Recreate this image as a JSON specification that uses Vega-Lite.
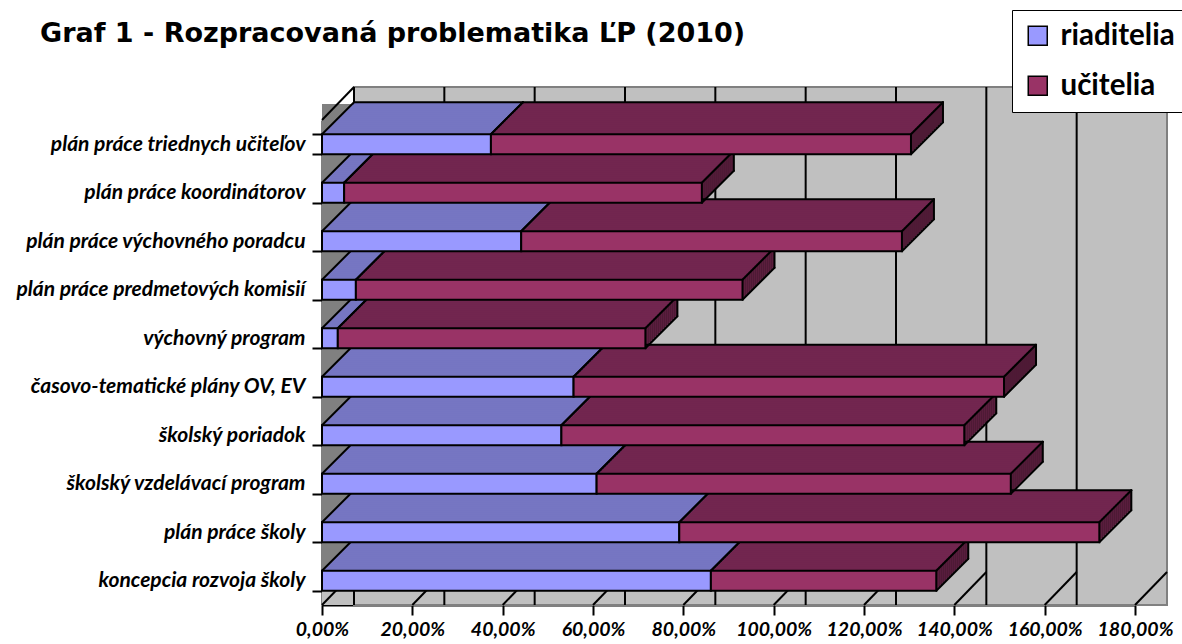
{
"$schema": "https://vega.github.io/schema/vega-lite/v6.json",
"autosize": {"type": "none"},
"width": 813, "height": 485,
"padding": {"left": 322, "top": 120, "right": 47, "bottom": 39},
"background": "white",
"title": {"text": "Graf 1 - Rozpracovaná problematika ĽP (2010)", "anchor": "start", "frame": "group", "dx": -282, "dy": 42, "fontSize": 27, "font": "DejaVu Sans", "fontWeight": "bold", "color": "black"},
"config": {
  "view": {"stroke": null},
  "axisY": {"labelFont": "Lato", "labelFontSize": 21, "labelFontWeight": "bold", "labelFontStyle": "italic", "labelColor": "black", "domainColor": "black", "domainWidth": 2, "tickColor": "black", "tickWidth": 2, "tickSize": 10, "labelPadding": 7, "tickBand": "extent", "labelLimit": 400, "grid": false},
  "axisX": {"labelFont": "Lato", "labelFontSize": 19.5, "labelFontWeight": "bold", "labelFontStyle": "italic", "labelColor": "black", "domainColor": "black", "domainWidth": 2, "tickColor": "black", "tickWidth": 2, "tickSize": 10, "labelPadding": 5, "labelOverlap": false, "labelFlush": false, "grid": false}
},
"datasets": {
  "main": [
    {"cat": "plán práce triednych učiteľov", "series": "riaditelia", "value": 0.374},
    {"cat": "plán práce triednych učiteľov", "series": "učitelia", "value": 0.930},
    {"cat": "plán práce koordinátorov", "series": "riaditelia", "value": 0.049},
    {"cat": "plán práce koordinátorov", "series": "učitelia", "value": 0.792},
    {"cat": "plán práce výchovného poradcu", "series": "riaditelia", "value": 0.441},
    {"cat": "plán práce výchovného poradcu", "series": "učitelia", "value": 0.843},
    {"cat": "plán práce predmetových komisií", "series": "riaditelia", "value": 0.075},
    {"cat": "plán práce predmetových komisií", "series": "učitelia", "value": 0.856},
    {"cat": "výchovný program", "series": "riaditelia", "value": 0.035},
    {"cat": "výchovný program", "series": "učitelia", "value": 0.681},
    {"cat": "časovo-tematické plány OV, EV", "series": "riaditelia", "value": 0.557},
    {"cat": "časovo-tematické plány OV, EV", "series": "učitelia", "value": 0.953},
    {"cat": "školský poriadok", "series": "riaditelia", "value": 0.530},
    {"cat": "školský poriadok", "series": "učitelia", "value": 0.892},
    {"cat": "školský vzdelávací program", "series": "riaditelia", "value": 0.608},
    {"cat": "školský vzdelávací program", "series": "učitelia", "value": 0.917},
    {"cat": "plán práce školy", "series": "riaditelia", "value": 0.791},
    {"cat": "plán práce školy", "series": "učitelia", "value": 0.930},
    {"cat": "koncepcia rozvoja školy", "series": "riaditelia", "value": 0.861},
    {"cat": "koncepcia rozvoja školy", "series": "učitelia", "value": 0.499}
  ],
  "grid": [{"g": 0}, {"g": 0.2}, {"g": 0.4}, {"g": 0.6}, {"g": 0.8}, {"g": 1.0}, {"g": 1.2}, {"g": 1.4}, {"g": 1.6}],
  "floor": [{"g": 0}, {"g": 0.2}, {"g": 0.4}, {"g": 0.6}, {"g": 0.8}, {"g": 1.0}, {"g": 1.2}, {"g": 1.4}, {"g": 1.6}, {"g": 1.8}]
},
"layer": [
  {"data": {"values": [{}]}, "mark": {"type": "rect", "fill": "#c0c0c0"},
   "encoding": {"x": {"datum": 0, "type": "quantitative", "scale": {"domain": [0, 1.8], "nice": false}}, "x2": {"datum": 1.8}}},
  {"data": {"values": [{}]}, "mark": {"type": "rect", "fill": "#808080", "x2Offset": 32, "yOffset": -16, "y2Offset": -32},
   "encoding": {"x": {"datum": 0, "type": "quantitative", "scale": {"domain": [0, 1.8], "nice": false}}, "x2": {"datum": 0},
     "y": {"value": 0}, "y2": {"value": "height"}}},
  {"data": {"values": [{}]}, "mark": {"type": "rect", "fill": "#c0c0c0", "stroke": "#808080", "strokeWidth": 2, "xOffset": 32, "x2Offset": 32, "yOffset": -33, "y2Offset": -33},
   "encoding": {"x": {"datum": 0, "type": "quantitative", "scale": {"domain": [0, 1.8], "nice": false}}, "x2": {"datum": 1.8}}},
  {"data": {"name": "grid"}, "mark": {"type": "rule", "stroke": "black", "strokeWidth": 2, "xOffset": 32, "yOffset": -33, "y2Offset": -33},
   "encoding": {"x": {"field": "g", "type": "quantitative", "title": null, "scale": {"domain": [0, 1.8], "nice": false}}}},
  {"data": {"name": "floor"}, "mark": {"type": "rule", "stroke": "black", "strokeWidth": 2, "x2Offset": 32},
   "encoding": {"x": {"field": "g", "type": "quantitative", "title": null, "scale": {"domain": [0, 1.8], "nice": false}}, "x2": {"field": "g"},
     "y": {"value": "height"}, "y2": {"value": {"expr": "height - 33"}}}},
  {"data": {"values": [{}]}, "mark": {"type": "rule", "stroke": "black", "strokeWidth": 2, "x2Offset": 32},
   "encoding": {"x": {"datum": 0, "type": "quantitative", "scale": {"domain": [0, 1.8], "nice": false}}, "x2": {"datum": 0},
     "y": {"value": 0}, "y2": {"value": -33}}},
  {"data": {"name": "main"},
   "transform": [{"stack": "value", "groupby": ["cat"], "sort": [{"field": "series", "order": "ascending"}], "as": ["x0", "x1"]}],
   "encoding": {
     "y": {"field": "cat", "type": "nominal", "title": null,
       "sort": ["plán práce triednych učiteľov", "plán práce koordinátorov", "plán práce výchovného poradcu", "plán práce predmetových komisií", "výchovný program", "časovo-tematické plány OV, EV", "školský poriadok", "školský vzdelávací program", "plán práce školy", "koncepcia rozvoja školy"],
       "scale": {"paddingInner": 0.588, "paddingOuter": 0.294}},
     "x": {"field": "x0", "type": "quantitative", "title": null, "scale": {"domain": [0, 1.8], "nice": false},
       "axis": {"values": [0, 0.2, 0.4, 0.6, 0.8, 1.0, 1.2, 1.4, 1.6, 1.8], "labelExpr": "replace(format(datum.value, '.2%'), '.', ',')"}},
     "x2": {"field": "x1"}
   },
   "layer": [
     {"mark": {"type": "bar", "xOffset": 32, "x2Offset": 32, "yOffset": -32, "y2Offset": -32}, "encoding": {"fill": {"condition": {"test": "datum.series==='riaditelia'", "value": "#7676c2"}, "value": "#72264f"}}},
     {"transform": [{"filter": "datum.series==='učitelia'"}], "mark": {"type": "bar", "fill": "#4e1a35", "xOffset": 30, "x2Offset": 32, "yOffset": -32, "y2Offset": -32}, "encoding": {"x": {"field": "x1", "type": "quantitative", "title": null, "scale": {"domain": [0, 1.8], "nice": false}}, "x2": {"field": "x1"}}},
     {"mark": {"type": "bar", "xOffset": 30, "x2Offset": 30, "yOffset": -30, "y2Offset": -30}, "encoding": {"fill": {"condition": {"test": "datum.series==='riaditelia'", "value": "#7676c2"}, "value": "#72264f"}}},
     {"transform": [{"filter": "datum.series==='učitelia'"}], "mark": {"type": "bar", "fill": "#4e1a35", "xOffset": 28, "x2Offset": 30, "yOffset": -30, "y2Offset": -30}, "encoding": {"x": {"field": "x1", "type": "quantitative", "title": null, "scale": {"domain": [0, 1.8], "nice": false}}, "x2": {"field": "x1"}}},
     {"mark": {"type": "bar", "xOffset": 28, "x2Offset": 28, "yOffset": -28, "y2Offset": -28}, "encoding": {"fill": {"condition": {"test": "datum.series==='riaditelia'", "value": "#7676c2"}, "value": "#72264f"}}},
     {"transform": [{"filter": "datum.series==='učitelia'"}], "mark": {"type": "bar", "fill": "#4e1a35", "xOffset": 26, "x2Offset": 28, "yOffset": -28, "y2Offset": -28}, "encoding": {"x": {"field": "x1", "type": "quantitative", "title": null, "scale": {"domain": [0, 1.8], "nice": false}}, "x2": {"field": "x1"}}},
     {"mark": {"type": "bar", "xOffset": 26, "x2Offset": 26, "yOffset": -26, "y2Offset": -26}, "encoding": {"fill": {"condition": {"test": "datum.series==='riaditelia'", "value": "#7676c2"}, "value": "#72264f"}}},
     {"transform": [{"filter": "datum.series==='učitelia'"}], "mark": {"type": "bar", "fill": "#4e1a35", "xOffset": 24, "x2Offset": 26, "yOffset": -26, "y2Offset": -26}, "encoding": {"x": {"field": "x1", "type": "quantitative", "title": null, "scale": {"domain": [0, 1.8], "nice": false}}, "x2": {"field": "x1"}}},
     {"mark": {"type": "bar", "xOffset": 24, "x2Offset": 24, "yOffset": -24, "y2Offset": -24}, "encoding": {"fill": {"condition": {"test": "datum.series==='riaditelia'", "value": "#7676c2"}, "value": "#72264f"}}},
     {"transform": [{"filter": "datum.series==='učitelia'"}], "mark": {"type": "bar", "fill": "#4e1a35", "xOffset": 22, "x2Offset": 24, "yOffset": -24, "y2Offset": -24}, "encoding": {"x": {"field": "x1", "type": "quantitative", "title": null, "scale": {"domain": [0, 1.8], "nice": false}}, "x2": {"field": "x1"}}},
     {"mark": {"type": "bar", "xOffset": 22, "x2Offset": 22, "yOffset": -22, "y2Offset": -22}, "encoding": {"fill": {"condition": {"test": "datum.series==='riaditelia'", "value": "#7676c2"}, "value": "#72264f"}}},
     {"transform": [{"filter": "datum.series==='učitelia'"}], "mark": {"type": "bar", "fill": "#4e1a35", "xOffset": 20, "x2Offset": 22, "yOffset": -22, "y2Offset": -22}, "encoding": {"x": {"field": "x1", "type": "quantitative", "title": null, "scale": {"domain": [0, 1.8], "nice": false}}, "x2": {"field": "x1"}}},
     {"mark": {"type": "bar", "xOffset": 20, "x2Offset": 20, "yOffset": -20, "y2Offset": -20}, "encoding": {"fill": {"condition": {"test": "datum.series==='riaditelia'", "value": "#7676c2"}, "value": "#72264f"}}},
     {"transform": [{"filter": "datum.series==='učitelia'"}], "mark": {"type": "bar", "fill": "#4e1a35", "xOffset": 18, "x2Offset": 20, "yOffset": -20, "y2Offset": -20}, "encoding": {"x": {"field": "x1", "type": "quantitative", "title": null, "scale": {"domain": [0, 1.8], "nice": false}}, "x2": {"field": "x1"}}},
     {"mark": {"type": "bar", "xOffset": 18, "x2Offset": 18, "yOffset": -18, "y2Offset": -18}, "encoding": {"fill": {"condition": {"test": "datum.series==='riaditelia'", "value": "#7676c2"}, "value": "#72264f"}}},
     {"transform": [{"filter": "datum.series==='učitelia'"}], "mark": {"type": "bar", "fill": "#4e1a35", "xOffset": 16, "x2Offset": 18, "yOffset": -18, "y2Offset": -18}, "encoding": {"x": {"field": "x1", "type": "quantitative", "title": null, "scale": {"domain": [0, 1.8], "nice": false}}, "x2": {"field": "x1"}}},
     {"mark": {"type": "bar", "xOffset": 16, "x2Offset": 16, "yOffset": -16, "y2Offset": -16}, "encoding": {"fill": {"condition": {"test": "datum.series==='riaditelia'", "value": "#7676c2"}, "value": "#72264f"}}},
     {"transform": [{"filter": "datum.series==='učitelia'"}], "mark": {"type": "bar", "fill": "#4e1a35", "xOffset": 14, "x2Offset": 16, "yOffset": -16, "y2Offset": -16}, "encoding": {"x": {"field": "x1", "type": "quantitative", "title": null, "scale": {"domain": [0, 1.8], "nice": false}}, "x2": {"field": "x1"}}},
     {"mark": {"type": "bar", "xOffset": 14, "x2Offset": 14, "yOffset": -14, "y2Offset": -14}, "encoding": {"fill": {"condition": {"test": "datum.series==='riaditelia'", "value": "#7676c2"}, "value": "#72264f"}}},
     {"transform": [{"filter": "datum.series==='učitelia'"}], "mark": {"type": "bar", "fill": "#4e1a35", "xOffset": 12, "x2Offset": 14, "yOffset": -14, "y2Offset": -14}, "encoding": {"x": {"field": "x1", "type": "quantitative", "title": null, "scale": {"domain": [0, 1.8], "nice": false}}, "x2": {"field": "x1"}}},
     {"mark": {"type": "bar", "xOffset": 12, "x2Offset": 12, "yOffset": -12, "y2Offset": -12}, "encoding": {"fill": {"condition": {"test": "datum.series==='riaditelia'", "value": "#7676c2"}, "value": "#72264f"}}},
     {"transform": [{"filter": "datum.series==='učitelia'"}], "mark": {"type": "bar", "fill": "#4e1a35", "xOffset": 10, "x2Offset": 12, "yOffset": -12, "y2Offset": -12}, "encoding": {"x": {"field": "x1", "type": "quantitative", "title": null, "scale": {"domain": [0, 1.8], "nice": false}}, "x2": {"field": "x1"}}},
     {"mark": {"type": "bar", "xOffset": 10, "x2Offset": 10, "yOffset": -10, "y2Offset": -10}, "encoding": {"fill": {"condition": {"test": "datum.series==='riaditelia'", "value": "#7676c2"}, "value": "#72264f"}}},
     {"transform": [{"filter": "datum.series==='učitelia'"}], "mark": {"type": "bar", "fill": "#4e1a35", "xOffset": 8, "x2Offset": 10, "yOffset": -10, "y2Offset": -10}, "encoding": {"x": {"field": "x1", "type": "quantitative", "title": null, "scale": {"domain": [0, 1.8], "nice": false}}, "x2": {"field": "x1"}}},
     {"mark": {"type": "bar", "xOffset": 8, "x2Offset": 8, "yOffset": -8, "y2Offset": -8}, "encoding": {"fill": {"condition": {"test": "datum.series==='riaditelia'", "value": "#7676c2"}, "value": "#72264f"}}},
     {"transform": [{"filter": "datum.series==='učitelia'"}], "mark": {"type": "bar", "fill": "#4e1a35", "xOffset": 6, "x2Offset": 8, "yOffset": -8, "y2Offset": -8}, "encoding": {"x": {"field": "x1", "type": "quantitative", "title": null, "scale": {"domain": [0, 1.8], "nice": false}}, "x2": {"field": "x1"}}},
     {"mark": {"type": "bar", "xOffset": 6, "x2Offset": 6, "yOffset": -6, "y2Offset": -6}, "encoding": {"fill": {"condition": {"test": "datum.series==='riaditelia'", "value": "#7676c2"}, "value": "#72264f"}}},
     {"transform": [{"filter": "datum.series==='učitelia'"}], "mark": {"type": "bar", "fill": "#4e1a35", "xOffset": 4, "x2Offset": 6, "yOffset": -6, "y2Offset": -6}, "encoding": {"x": {"field": "x1", "type": "quantitative", "title": null, "scale": {"domain": [0, 1.8], "nice": false}}, "x2": {"field": "x1"}}},
     {"mark": {"type": "bar", "xOffset": 4, "x2Offset": 4, "yOffset": -4, "y2Offset": -4}, "encoding": {"fill": {"condition": {"test": "datum.series==='riaditelia'", "value": "#7676c2"}, "value": "#72264f"}}},
     {"transform": [{"filter": "datum.series==='učitelia'"}], "mark": {"type": "bar", "fill": "#4e1a35", "xOffset": 2, "x2Offset": 4, "yOffset": -4, "y2Offset": -4}, "encoding": {"x": {"field": "x1", "type": "quantitative", "title": null, "scale": {"domain": [0, 1.8], "nice": false}}, "x2": {"field": "x1"}}},
     {"mark": {"type": "bar", "xOffset": 2, "x2Offset": 2, "yOffset": -2, "y2Offset": -2}, "encoding": {"fill": {"condition": {"test": "datum.series==='riaditelia'", "value": "#7676c2"}, "value": "#72264f"}}},
     {"transform": [{"filter": "datum.series==='učitelia'"}], "mark": {"type": "bar", "fill": "#4e1a35", "xOffset": 0, "x2Offset": 2, "yOffset": -2, "y2Offset": -2}, "encoding": {"x": {"field": "x1", "type": "quantitative", "title": null, "scale": {"domain": [0, 1.8], "nice": false}}, "x2": {"field": "x1"}}},
     {"mark": {"type": "rule", "stroke": "black", "strokeWidth": 2, "strokeCap": "round", "yOffset": -10, "y2Offset": -42, "x2Offset": 32},
      "encoding": {"x2": {"field": "x0"}, "y2": {"field": "cat"}}},
     {"mark": {"type": "rule", "stroke": "black", "strokeWidth": 2, "strokeCap": "round", "yOffset": -10, "y2Offset": -42, "x2Offset": 32},
      "encoding": {"x": {"field": "x1", "type": "quantitative", "title": null, "scale": {"domain": [0, 1.8], "nice": false}}, "x2": {"field": "x1"}, "y2": {"field": "cat"}}},
     {"mark": {"type": "rule", "stroke": "black", "strokeWidth": 2, "strokeCap": "round", "xOffset": 32, "x2Offset": 32, "yOffset": -42}, "encoding": {}},
     {"transform": [{"filter": "datum.series==='učitelia'"}], "mark": {"type": "rule", "stroke": "black", "strokeWidth": 2, "strokeCap": "round", "xOffset": 32, "x2Offset": 32, "yOffset": -42, "y2Offset": -22},
      "encoding": {"x": {"field": "x1", "type": "quantitative", "title": null, "scale": {"domain": [0, 1.8], "nice": false}}, "x2": {"field": "x1"}, "y2": {"field": "cat"}}},
     {"transform": [{"filter": "datum.series==='učitelia'"}], "mark": {"type": "rule", "stroke": "black", "strokeWidth": 2, "strokeCap": "round", "x2Offset": 32, "yOffset": 10, "y2Offset": -22},
      "encoding": {"x": {"field": "x1", "type": "quantitative", "title": null, "scale": {"domain": [0, 1.8], "nice": false}}, "x2": {"field": "x1"}, "y2": {"field": "cat"}}},
     {"mark": {"type": "bar", "stroke": "black", "strokeWidth": 2},
      "encoding": {"fill": {"field": "series", "type": "nominal", "scale": {"domain": ["riaditelia", "učitelia"], "range": ["#9999ff", "#993366"]},
        "legend": {"title": null, "orient": "none", "legendX": 690, "legendY": -110, "direction": "vertical", "fillColor": "white", "strokeColor": "black", "padding": 11, "symbolType": "square", "symbolSize": 361, "symbolStrokeColor": "black", "symbolStrokeWidth": 1.5, "symbolOpacity": 1, "labelFont": "Lato", "labelFontSize": 29.5, "labelFontWeight": "bold", "labelColor": "black", "rowPadding": 19, "labelOffset": 8}}}}
   ]
  }
]
}
